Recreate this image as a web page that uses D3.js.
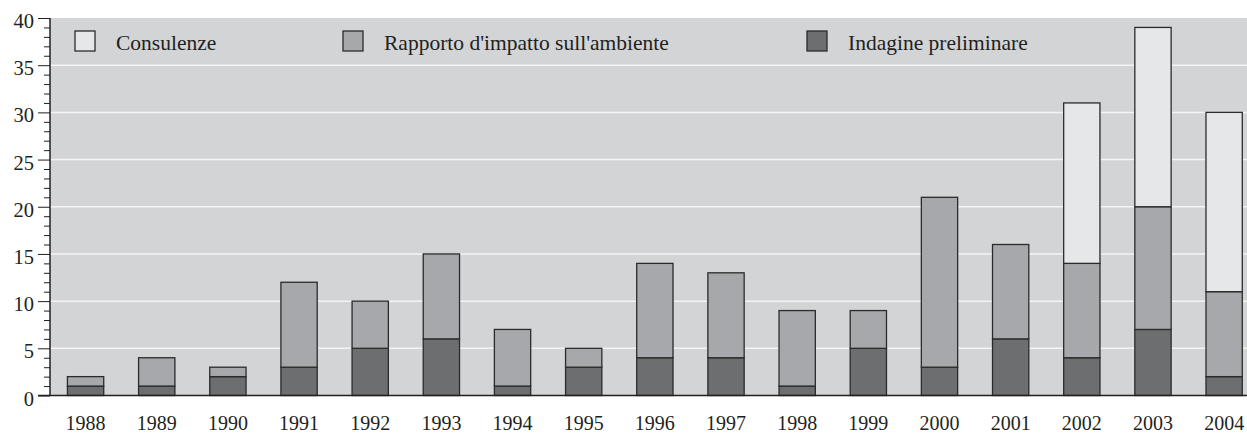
<!DOCTYPE html>
<html>
<head>
<meta charset="utf-8">
<script src="https://cdn.jsdelivr.net/npm/d3@7"></script>
<style>
body { margin: 0; background: #fff; }
</style>
</head>
<body>
<script>
var width = 1247, height = 434;
var margin = { left: 50, top: 18, bottom: 38.5 };

var years = ["1988","1989","1990","1991","1992","1993","1994","1995","1996","1997","1998","1999","2000","2001","2002","2003","2004"];
var indagine = [1, 1, 2, 3, 5, 6, 1, 3, 4, 4, 1, 5, 3, 6, 4, 7, 2];
var rapporto = [1, 3, 1, 9, 5, 9, 6, 2, 10, 9, 8, 4, 18, 10, 10, 13, 9];
var consulenze = [0, 0, 0, 0, 0, 0, 0, 0, 0, 0, 0, 0, 0, 0, 17, 19, 19];
var yTicks = [0, 5, 10, 15, 20, 25, 30, 35, 40];

var seriesKeys = ["indagine", "rapporto", "consulenze"];
var colors = { indagine: "#6d6e70", rapporto: "#a7a8ab", consulenze: "#e6e7e9" };
var labels = { consulenze: "Consulenze", rapporto: "Rapporto d'impatto sull'ambiente", indagine: "Indagine preliminare" };

var table = years.map(function (y, i) {
    return { year: y, indagine: indagine[i], rapporto: rapporto[i], consulenze: consulenze[i] };
});
var stacked = d3.stack().keys(seriesKeys)(table);

var svg = d3.select("body")
    .append("svg")
    .attr("width", width)
    .attr("height", height)
    .attr("font-family", "'Liberation Serif', 'Times New Roman', serif")
    .style("fill", "#231f20");

var x = d3.scaleBand()
    .domain(years)
    .range([margin.left, margin.left + 17 * 71.16])
    .paddingInner(0.49)
    .paddingOuter(0.245);

var y = d3.scaleLinear()
    .domain([0, 40])
    .range([height - margin.bottom, margin.top]);

// plot background
svg.append("rect")
    .attr("x", margin.left)
    .attr("y", margin.top)
    .attr("width", width - margin.left)
    .attr("height", y(0) - margin.top)
    .attr("fill", "#d3d4d6");

// grid lines
svg.selectAll("line.grid")
    .data(yTicks.filter(function (d) { return d > 0 && d < 40; }))
    .enter()
    .append("line")
    .attr("class", "grid")
    .attr("x1", margin.left)
    .attr("x2", width)
    .attr("y1", function (d) { return y(d); })
    .attr("y2", function (d) { return y(d); })
    .attr("stroke", "#f4f4f5")
    .attr("stroke-width", 1.5);

// bars
svg.selectAll("g.series")
    .data(stacked)
    .enter()
    .append("g")
    .attr("class", "series")
    .attr("fill", function (d) { return colors[d.key]; })
    .selectAll("rect")
    .data(function (d) { return d.filter(function (s) { return s[1] > s[0]; }); })
    .enter()
    .append("rect")
    .attr("x", function (d) { return x(d.data.year); })
    .attr("y", function (d) { return y(d[1]); })
    .attr("width", x.bandwidth())
    .attr("height", function (d) { return y(d[0]) - y(d[1]); })
    .attr("stroke", "#2b2b2b")
    .attr("stroke-width", 1.3);

// y axis
var yAxis = d3.axisLeft(y)
    .tickValues(d3.range(0, 41))
    .tickSize(6)
    .tickFormat("");
var yg = svg.append("g")
    .attr("transform", "translate(" + margin.left + ",0)")
    .call(yAxis);
yg.select(".domain").remove();
yg.selectAll(".tick line")
    .attr("x2", function (d) { return d % 5 === 0 ? -12 : -6; })
    .attr("stroke", "#231f20");

svg.append("line")
    .attr("x1", margin.left).attr("x2", margin.left)
    .attr("y1", margin.top).attr("y2", y(0))
    .attr("stroke", "#231f20").attr("stroke-width", 1.5);

svg.append("line")
    .attr("x1", margin.left - 12).attr("x2", width)
    .attr("y1", y(0)).attr("y2", y(0))
    .attr("stroke", "#231f20").attr("stroke-width", 1.5);

svg.selectAll("text.ytick")
    .data(yTicks)
    .enter()
    .append("text")
    .attr("class", "ytick")
    .attr("x", 34)
    .attr("y", function (d) { return y(d) + 10; })
    .attr("text-anchor", "end")
    .attr("font-size", 20.5)
    .text(function (d) { return d; });

// x labels
svg.selectAll("text.xtick")
    .data(years)
    .enter()
    .append("text")
    .attr("class", "xtick")
    .attr("x", function (d) { return x(d) + x.bandwidth() / 2; })
    .attr("y", 430)
    .attr("text-anchor", "middle")
    .attr("font-size", 20)
    .text(function (d) { return d; });

// legend
var legendX = [75, 343, 807];
var legendKeys = ["consulenze", "rapporto", "indagine"];
var lg = svg.selectAll("g.legend")
    .data(legendKeys)
    .enter()
    .append("g")
    .attr("class", "legend")
    .attr("transform", function (d, i) { return "translate(" + legendX[i] + ",31)"; });
lg.append("rect")
    .attr("width", 20)
    .attr("height", 20)
    .attr("fill", function (d) { return colors[d]; })
    .attr("stroke", "#2b2b2b")
    .attr("stroke-width", 1.3);
lg.append("text")
    .attr("x", 41)
    .attr("y", 19)
    .attr("font-size", 21.5)
    .text(function (d) { return labels[d]; });
</script>
</body>
</html>
